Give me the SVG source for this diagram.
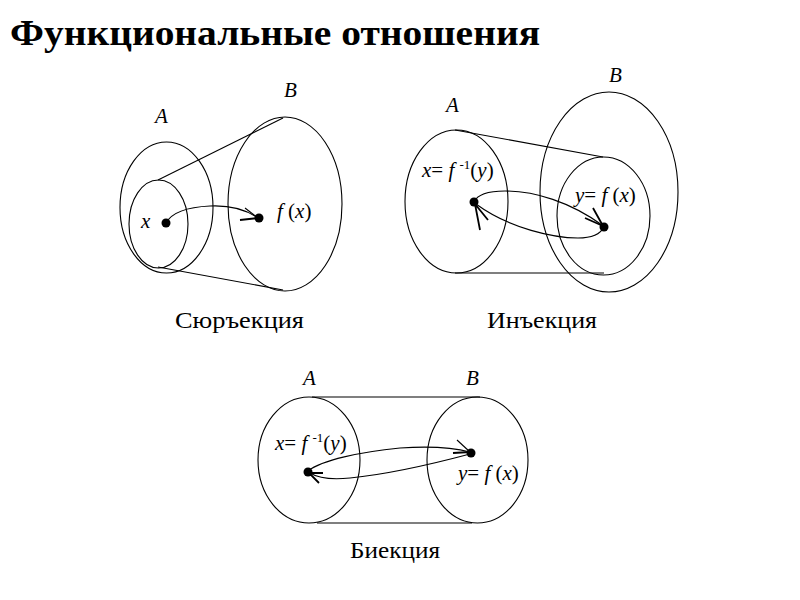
<svg xmlns="http://www.w3.org/2000/svg" width="800" height="600" viewBox="0 0 800 600">
<style>
text{font-family:"Liberation Serif","Times New Roman",serif;fill:#000}
.s{fill:none;stroke:#000;stroke-width:1.1}
.b{fill:none;stroke:#000;stroke-width:1.8}
.d{fill:#000}
.m{font-style:italic;font-size:21px}
.u{font-style:normal}
.sup{font-style:normal;font-size:13px}
.cap{font-size:24px}
</style>
<rect width="800" height="600" fill="#fff"/>
<text x="10" y="45" font-size="36" font-weight="bold" textLength="530" lengthAdjust="spacingAndGlyphs">Функциональные отношения</text>

<g id="surjection">
  <ellipse class="s" cx="166.5" cy="207.5" rx="46.5" ry="65.5"/>
  <ellipse class="s" cx="158.5" cy="224" rx="29.5" ry="44"/>
  <ellipse class="s" cx="285" cy="204" rx="57" ry="87"/>
  <line class="s" x1="158" y1="180" x2="283" y2="118"/>
  <line class="s" x1="158" y1="267" x2="283" y2="290"/>
  <circle class="d" cx="166" cy="223" r="4.5"/>
  <circle class="d" cx="259" cy="218" r="4.5"/>
  <text class="m" x="155" y="123">A</text>
  <text class="m" x="284" y="97">B</text>
  <text class="m" x="141" y="228">x</text>
  <text class="m" x="277" y="218">f <tspan class="u">(</tspan>x<tspan class="u">)</tspan></text>
  <text class="cap" x="175" y="328" textLength="129" lengthAdjust="spacingAndGlyphs">Сюръекция</text>
</g>

<g id="injection">
  <ellipse class="s" cx="456.5" cy="201.5" rx="51.5" ry="71.5"/>
  <ellipse class="s" cx="609" cy="192" rx="69" ry="100"/>
  <ellipse class="s" cx="603.5" cy="216" rx="46.5" ry="59"/>
  <line class="s" x1="455" y1="130" x2="603" y2="157"/>
  <line class="s" x1="455" y1="273" x2="604" y2="273"/>
  <circle class="d" cx="474" cy="202" r="4.5"/>
  <circle class="d" cx="604" cy="227" r="4.5"/>
  <text class="m" x="446" y="112">A</text>
  <text class="m" x="609" y="82">B</text>
  <text class="m" x="422" y="177">x<tspan class="u">=</tspan> f <tspan class="sup" dy="-8">-1</tspan><tspan class="u" dy="8">(</tspan>y<tspan class="u">)</tspan></text>
  <text class="m" x="575" y="202">y<tspan class="u">=</tspan> f <tspan class="u">(</tspan>x<tspan class="u">)</tspan></text>
  <text class="cap" x="487" y="328" textLength="110" lengthAdjust="spacingAndGlyphs">Инъекция</text>
</g>

<g id="bijection">
  <ellipse class="s" cx="309" cy="460" rx="51" ry="63"/>
  <ellipse class="s" cx="477.5" cy="460" rx="50.5" ry="63"/>
  <line class="s" x1="312" y1="397" x2="480" y2="397"/>
  <line class="s" x1="317" y1="523" x2="472" y2="523"/>
  <circle class="d" cx="308" cy="472" r="4.5"/>
  <circle class="d" cx="471" cy="453" r="4.5"/>
  <text class="m" x="303" y="385">A</text>
  <text class="m" x="466" y="385">B</text>
  <text class="m" x="275" y="450">x<tspan class="u">=</tspan> f <tspan class="sup" dy="-8">-1</tspan><tspan class="u" dy="8">(</tspan>y<tspan class="u">)</tspan></text>
  <text class="m" x="458" y="480">y<tspan class="u">=</tspan> f <tspan class="u">(</tspan>x<tspan class="u">)</tspan></text>
  <text class="cap" x="350" y="558" textLength="90" lengthAdjust="spacingAndGlyphs">Биекция</text>
</g>

<g id="connectors">
  <path class="s" d="M166,223 C172,212 188,207 210,206 C232,205 248,211 258,218"/>
  <path class="s" d="M245,208 L258,218"/>
  <path class="b" d="M240,220 L258,218"/>

  <path class="s" d="M474,202 C478,193 490,191 505,191 C535,191 570,202 602,225"/>
  <path class="b" d="M593,208 L603,226 M585,218 L603,226"/>
  <path class="s" d="M604,227 C600,235 592,238 578,238 C555,238 510,229 476,204"/>
  <path class="b" d="M488,220 L475,204 L480,230"/>

  <path class="s" d="M308,471 C322,460 360,452 400,448 C430,446 455,448 470,452"/>
  <path class="s" d="M457,440 L470,452"/>
  <path class="b" d="M453,453 L470,452"/>
  <path class="s" d="M470,454 C440,462 390,474 350,478 C330,480 318,478 310,473"/>
  <path class="b" d="M323,473 L309,473 L319,483"/>
</g>
</svg>
